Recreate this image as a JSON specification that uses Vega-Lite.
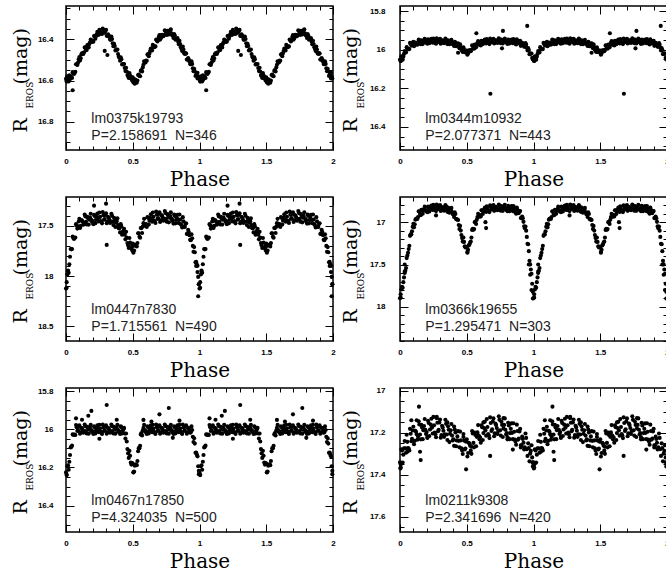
{
"$schema": "https://vega.github.io/schema/vega-lite/v6.json",
"padding": {"left": 10, "top": 4, "right": 0, "bottom": 0},
"background": "white",
"config": {
  "view": {"stroke": "black", "strokeWidth": 1.5},
  "circle": {"size": 17},
  "axis": {"domain": false, "grid": false, "tickColor": "black", "tickWidth": 1, "labelFont": "Liberation Sans", "labelFontWeight": "bold", "labelFontSize": 8, "labelColor": "black", "labelFlush": false, "titleFont": "DejaVu Serif", "titleFontWeight": "normal", "titleColor": "black"}
},
"datasets": {
"d1": [
{"a":0,"b":1,"m":16.591},{"a":0.01,"b":1.01,"m":16.579},{"a":0.02,"b":1.02,"m":16.604},{"a":0.03,"b":1.03,"m":16.592},{"a":0.04,"b":1.04,"m":16.584},{"a":0.05,"b":1.05,"m":16.559},{"a":0.06,"b":1.06,"m":16.568},{"a":0.07,"b":1.07,"m":16.557},{"a":0.08,"b":1.08,"m":16.521},{"a":0.09,"b":1.09,"m":16.513},
{"a":0.1,"b":1.1,"m":16.486},{"a":0.11,"b":1.11,"m":16.492},{"a":0.12,"b":1.12,"m":16.468},{"a":0.13,"b":1.13,"m":16.471},{"a":0.14,"b":1.14,"m":16.439},{"a":0.15,"b":1.15,"m":16.449},{"a":0.16,"b":1.16,"m":16.428},{"a":0.17,"b":1.17,"m":16.439},{"a":0.18,"b":1.18,"m":16.414},{"a":0.19,"b":1.19,"m":16.411},
{"a":0.2,"b":1.2,"m":16.406},{"a":0.21,"b":1.21,"m":16.384},{"a":0.22,"b":1.22,"m":16.397},{"a":0.23,"b":1.23,"m":16.375},{"a":0.24,"b":1.24,"m":16.371},{"a":0.25,"b":1.25,"m":16.354},{"a":0.26,"b":1.26,"m":16.371},{"a":0.27,"b":1.27,"m":16.374},{"a":0.28,"b":1.28,"m":16.356},{"a":0.29,"b":1.29,"m":16.366},
{"a":0.3,"b":1.3,"m":16.354},{"a":0.31,"b":1.31,"m":16.383},{"a":0.32,"b":1.32,"m":16.381},{"a":0.33,"b":1.33,"m":16.401},{"a":0.34,"b":1.34,"m":16.386},{"a":0.35,"b":1.35,"m":16.419},{"a":0.36,"b":1.36,"m":16.421},{"a":0.37,"b":1.37,"m":16.454},{"a":0.38,"b":1.38,"m":16.451},{"a":0.39,"b":1.39,"m":16.471},
{"a":0.4,"b":1.4,"m":16.489},{"a":0.41,"b":1.41,"m":16.487},{"a":0.42,"b":1.42,"m":16.522},{"a":0.43,"b":1.43,"m":16.521},{"a":0.44,"b":1.44,"m":16.539},{"a":0.45,"b":1.45,"m":16.538},{"a":0.46,"b":1.46,"m":16.573},{"a":0.47,"b":1.47,"m":16.587},{"a":0.48,"b":1.48,"m":16.574},{"a":0.49,"b":1.49,"m":16.591},
{"a":0.5,"b":1.5,"m":16.584},{"a":0.51,"b":1.51,"m":16.606},{"a":0.52,"b":1.52,"m":16.596},{"a":0.53,"b":1.53,"m":16.61},{"a":0.54,"b":1.54,"m":16.573},{"a":0.55,"b":1.55,"m":16.578},{"a":0.56,"b":1.56,"m":16.553},{"a":0.57,"b":1.57,"m":16.556},{"a":0.58,"b":1.58,"m":16.523},{"a":0.59,"b":1.59,"m":16.512},
{"a":0.6,"b":1.6,"m":16.503},{"a":0.61,"b":1.61,"m":16.474},{"a":0.62,"b":1.62,"m":16.482},{"a":0.63,"b":1.63,"m":16.457},{"a":0.64,"b":1.64,"m":16.451},{"a":0.65,"b":1.65,"m":16.427},{"a":0.66,"b":1.66,"m":16.438},{"a":0.67,"b":1.67,"m":16.434},{"a":0.68,"b":1.68,"m":16.404},{"a":0.69,"b":1.69,"m":16.403},
{"a":0.7,"b":1.7,"m":16.379},{"a":0.71,"b":1.71,"m":16.394},{"a":0.72,"b":1.72,"m":16.378},{"a":0.73,"b":1.73,"m":16.385},{"a":0.74,"b":1.74,"m":16.356},{"a":0.75,"b":1.75,"m":16.373},{"a":0.76,"b":1.76,"m":16.358},{"a":0.77,"b":1.77,"m":16.376},{"a":0.78,"b":1.78,"m":16.356},{"a":0.79,"b":1.79,"m":16.37},
{"a":0.8,"b":1.8,"m":16.381},{"a":0.81,"b":1.81,"m":16.374},{"a":0.82,"b":1.82,"m":16.402},{"a":0.83,"b":1.83,"m":16.397},{"a":0.84,"b":1.84,"m":16.411},{"a":0.85,"b":1.85,"m":16.407},{"a":0.86,"b":1.86,"m":16.438},{"a":0.87,"b":1.87,"m":16.457},{"a":0.88,"b":1.88,"m":16.449},{"a":0.89,"b":1.89,"m":16.471},
{"a":0.9,"b":1.9,"m":16.469},{"a":0.91,"b":1.91,"m":16.499},{"a":0.92,"b":1.92,"m":16.498},{"a":0.93,"b":1.93,"m":16.52},{"a":0.94,"b":1.94,"m":16.506},{"a":0.95,"b":1.95,"m":16.54},{"a":0.96,"b":1.96,"m":16.543},{"a":0.97,"b":1.97,"m":16.578},{"a":0.98,"b":1.98,"m":16.568},{"a":0.99,"b":1.99,"m":16.58},
{"a":0.05,"b":1.05,"m":16.647},{"a":0.29,"b":1.29,"m":16.456},{"a":0.31,"b":1.31,"m":16.476},{"a":0.005,"b":1.005,"m":16.605},{"a":0.515,"b":1.515,"m":16.615},{"a":0.985,"b":1.985,"m":16.59},{"a":0.025,"b":1.025,"m":16.575},{"a":0.495,"b":1.495,"m":16.6},
{"a":0.005,"b":1.005,"m":16.6},{"a":0.015,"b":1.015,"m":16.584},{"a":0.025,"b":1.025,"m":16.597},{"a":0.035,"b":1.035,"m":16.578},{"a":0.045,"b":1.045,"m":16.587},{"a":0.055,"b":1.055,"m":16.564},{"a":0.065,"b":1.065,"m":16.562},{"a":0.075,"b":1.075,"m":16.521},{"a":0.085,"b":1.085,"m":16.524},{"a":0.095,"b":1.095,"m":16.497},
{"a":0.105,"b":1.105,"m":16.503},{"a":0.115,"b":1.115,"m":16.473},{"a":0.125,"b":1.125,"m":16.468},{"a":0.135,"b":1.135,"m":16.463},{"a":0.145,"b":1.145,"m":16.44},{"a":0.155,"b":1.155,"m":16.452},{"a":0.165,"b":1.165,"m":16.428},{"a":0.175,"b":1.175,"m":16.423},{"a":0.185,"b":1.185,"m":16.401},{"a":0.195,"b":1.195,"m":16.413},
{"a":0.205,"b":1.205,"m":16.411},{"a":0.215,"b":1.215,"m":16.383},{"a":0.225,"b":1.225,"m":16.385},{"a":0.235,"b":1.235,"m":16.363},{"a":0.245,"b":1.245,"m":16.378},{"a":0.255,"b":1.255,"m":16.363},{"a":0.265,"b":1.265,"m":16.372},{"a":0.275,"b":1.275,"m":16.347},{"a":0.285,"b":1.285,"m":16.368},{"a":0.295,"b":1.295,"m":16.357},
{"a":0.305,"b":1.305,"m":16.383},{"a":0.315,"b":1.315,"m":16.375},{"a":0.325,"b":1.325,"m":16.389},{"a":0.335,"b":1.335,"m":16.402},{"a":0.345,"b":1.345,"m":16.398},{"a":0.355,"b":1.355,"m":16.433},{"a":0.365,"b":1.365,"m":16.432},{"a":0.375,"b":1.375,"m":16.449},{"a":0.385,"b":1.385,"m":16.449},{"a":0.395,"b":1.395,"m":16.484},
{"a":0.405,"b":1.405,"m":16.504},{"a":0.415,"b":1.415,"m":16.497},{"a":0.425,"b":1.425,"m":16.52},{"a":0.435,"b":1.435,"m":16.52},{"a":0.445,"b":1.445,"m":16.554},{"a":0.455,"b":1.455,"m":16.556},{"a":0.465,"b":1.465,"m":16.579},{"a":0.475,"b":1.475,"m":16.563},{"a":0.485,"b":1.485,"m":16.589},{"a":0.495,"b":1.495,"m":16.585},
{"a":0.505,"b":1.505,"m":16.609},{"a":0.515,"b":1.515,"m":16.594},{"a":0.525,"b":1.525,"m":16.601},{"a":0.535,"b":1.535,"m":16.6},{"a":0.545,"b":1.545,"m":16.571},{"a":0.555,"b":1.555,"m":16.579},{"a":0.565,"b":1.565,"m":16.549},{"a":0.575,"b":1.575,"m":16.536},{"a":0.585,"b":1.585,"m":16.506},{"a":0.595,"b":1.595,"m":16.512},
{"a":0.605,"b":1.605,"m":16.504},{"a":0.615,"b":1.615,"m":16.471},{"a":0.625,"b":1.625,"m":16.468},{"a":0.635,"b":1.635,"m":16.444},{"a":0.645,"b":1.645,"m":16.454},{"a":0.655,"b":1.655,"m":16.433},{"a":0.665,"b":1.665,"m":16.435},{"a":0.675,"b":1.675,"m":16.401},{"a":0.685,"b":1.685,"m":16.41},{"a":0.695,"b":1.695,"m":16.388},
{"a":0.705,"b":1.705,"m":16.401},{"a":0.715,"b":1.715,"m":16.379},{"a":0.725,"b":1.725,"m":16.38},{"a":0.735,"b":1.735,"m":16.379},{"a":0.745,"b":1.745,"m":16.36},{"a":0.755,"b":1.755,"m":16.379},{"a":0.765,"b":1.765,"m":16.361},{"a":0.775,"b":1.775,"m":16.363},{"a":0.785,"b":1.785,"m":16.351},{"a":0.795,"b":1.795,"m":16.38},
{"a":0.805,"b":1.805,"m":16.393},{"a":0.815,"b":1.815,"m":16.381},{"a":0.825,"b":1.825,"m":16.398},{"a":0.835,"b":1.835,"m":16.394},{"a":0.845,"b":1.845,"m":16.424},{"a":0.855,"b":1.855,"m":16.423},{"a":0.865,"b":1.865,"m":16.447},{"a":0.875,"b":1.875,"m":16.435},{"a":0.885,"b":1.885,"m":16.467},{"a":0.895,"b":1.895,"m":16.467},
{"a":0.905,"b":1.905,"m":16.498},{"a":0.915,"b":1.915,"m":16.491},{"a":0.925,"b":1.925,"m":16.507},{"a":0.935,"b":1.935,"m":16.521},{"a":0.945,"b":1.945,"m":16.519},{"a":0.955,"b":1.955,"m":16.555},{"a":0.965,"b":1.965,"m":16.555},{"a":0.975,"b":1.975,"m":16.57},{"a":0.985,"b":1.985,"m":16.562},{"a":0.995,"b":1.995,"m":16.59}
],
"d2": [
{"a":0,"b":1,"m":16.051},{"a":0.01,"b":1.01,"m":16.034},{"a":0.02,"b":1.02,"m":16.052},{"a":0.03,"b":1.03,"m":16.022},{"a":0.04,"b":1.04,"m":16.011},{"a":0.05,"b":1.05,"m":15.987},{"a":0.06,"b":1.06,"m":15.998},{"a":0.07,"b":1.07,"m":15.997},{"a":0.08,"b":1.08,"m":15.969},{"a":0.09,"b":1.09,"m":15.975},
{"a":0.1,"b":1.1,"m":15.959},{"a":0.11,"b":1.11,"m":15.977},{"a":0.12,"b":1.12,"m":15.964},{"a":0.13,"b":1.13,"m":15.974},{"a":0.14,"b":1.14,"m":15.948},{"a":0.15,"b":1.15,"m":15.965},{"a":0.16,"b":1.16,"m":15.952},{"a":0.17,"b":1.17,"m":15.971},{"a":0.18,"b":1.18,"m":15.953},{"a":0.19,"b":1.19,"m":15.958},
{"a":0.2,"b":1.2,"m":15.961},{"a":0.21,"b":1.21,"m":15.946},{"a":0.22,"b":1.22,"m":15.967},{"a":0.23,"b":1.23,"m":15.952},{"a":0.24,"b":1.24,"m":15.956},{"a":0.25,"b":1.25,"m":15.942},{"a":0.26,"b":1.26,"m":15.963},{"a":0.27,"b":1.27,"m":15.969},{"a":0.28,"b":1.28,"m":15.949},{"a":0.29,"b":1.29,"m":15.958},
{"a":0.3,"b":1.3,"m":15.944},{"a":0.31,"b":1.31,"m":15.965},{"a":0.32,"b":1.32,"m":15.954},{"a":0.33,"b":1.33,"m":15.967},{"a":0.34,"b":1.34,"m":15.943},{"a":0.35,"b":1.35,"m":15.963},{"a":0.36,"b":1.36,"m":15.952},{"a":0.37,"b":1.37,"m":15.972},{"a":0.38,"b":1.38,"m":15.956},{"a":0.39,"b":1.39,"m":15.965},
{"a":0.4,"b":1.4,"m":15.971},{"a":0.41,"b":1.41,"m":15.959},{"a":0.42,"b":1.42,"m":15.982},{"a":0.43,"b":1.43,"m":15.972},{"a":0.44,"b":1.44,"m":15.981},{"a":0.45,"b":1.45,"m":15.972},{"a":0.46,"b":1.46,"m":16},{"a":0.47,"b":1.47,"m":16.012},{"a":0.48,"b":1.48,"m":15.999},{"a":0.49,"b":1.49,"m":16.013},
{"a":0.5,"b":1.5,"m":16.004},{"a":0.51,"b":1.51,"m":16.019},{"a":0.52,"b":1.52,"m":16.003},{"a":0.53,"b":1.53,"m":16.008},{"a":0.54,"b":1.54,"m":15.978},{"a":0.55,"b":1.55,"m":15.99},{"a":0.56,"b":1.56,"m":15.973},{"a":0.57,"b":1.57,"m":15.988},{"a":0.58,"b":1.58,"m":15.966},{"a":0.59,"b":1.59,"m":15.97},
{"a":0.6,"b":1.6,"m":15.971},{"a":0.61,"b":1.61,"m":15.954},{"a":0.62,"b":1.62,"m":15.972},{"a":0.63,"b":1.63,"m":15.956},{"a":0.64,"b":1.64,"m":15.96},{"a":0.65,"b":1.65,"m":15.945},{"a":0.66,"b":1.66,"m":15.965},{"a":0.67,"b":1.67,"m":15.971},{"a":0.68,"b":1.68,"m":15.95},{"a":0.69,"b":1.69,"m":15.959},
{"a":0.7,"b":1.7,"m":15.944},{"a":0.71,"b":1.71,"m":15.964},{"a":0.72,"b":1.72,"m":15.953},{"a":0.73,"b":1.73,"m":15.965},{"a":0.74,"b":1.74,"m":15.941},{"a":0.75,"b":1.75,"m":15.96},{"a":0.76,"b":1.76,"m":15.948},{"a":0.77,"b":1.77,"m":15.968},{"a":0.78,"b":1.78,"m":15.951},{"a":0.79,"b":1.79,"m":15.957},
{"a":0.8,"b":1.8,"m":15.961},{"a":0.81,"b":1.81,"m":15.947},{"a":0.82,"b":1.82,"m":15.968},{"a":0.83,"b":1.83,"m":15.954},{"a":0.84,"b":1.84,"m":15.959},{"a":0.85,"b":1.85,"m":15.945},{"a":0.86,"b":1.86,"m":15.967},{"a":0.87,"b":1.87,"m":15.973},{"a":0.88,"b":1.88,"m":15.954},{"a":0.89,"b":1.89,"m":15.966},
{"a":0.9,"b":1.9,"m":15.954},{"a":0.91,"b":1.91,"m":15.977},{"a":0.92,"b":1.92,"m":15.968},{"a":0.93,"b":1.93,"m":15.985},{"a":0.94,"b":1.94,"m":15.966},{"a":0.95,"b":1.95,"m":15.99},{"a":0.96,"b":1.96,"m":15.991},{"a":0.97,"b":1.97,"m":16.023},{"a":0.98,"b":1.98,"m":16.021},{"a":0.99,"b":1.99,"m":16.042},
{"a":0.435,"b":1.435,"m":16.016},{"a":0.572,"b":1.572,"m":15.915},{"a":0.677,"b":1.677,"m":16.228},{"a":0.771,"b":1.771,"m":15.903},{"a":0.764,"b":1.764,"m":15.993},{"a":0.953,"b":1.953,"m":15.877},{"a":0.005,"b":1.005,"m":16.058},{"a":0.995,"b":1.995,"m":16.048},{"a":0.505,"b":1.505,"m":16.022},{"a":0.015,"b":1.015,"m":16.045},
{"a":0.005,"b":1.005,"m":16.058},{"a":0.015,"b":1.015,"m":16.036},{"a":0.025,"b":1.025,"m":16.036},{"a":0.035,"b":1.035,"m":16.007},{"a":0.045,"b":1.045,"m":16.014},{"a":0.055,"b":1.055,"m":15.993},{"a":0.065,"b":1.065,"m":15.997},{"a":0.075,"b":1.075,"m":15.965},{"a":0.085,"b":1.085,"m":15.979},{"a":0.095,"b":1.095,"m":15.964},
{"a":0.105,"b":1.105,"m":15.982},{"a":0.115,"b":1.115,"m":15.963},{"a":0.125,"b":1.125,"m":15.967},{"a":0.135,"b":1.135,"m":15.969},{"a":0.145,"b":1.145,"m":15.952},{"a":0.155,"b":1.155,"m":15.972},{"a":0.165,"b":1.165,"m":15.956},{"a":0.175,"b":1.175,"m":15.959},{"a":0.185,"b":1.185,"m":15.944},{"a":0.195,"b":1.195,"m":15.964},
{"a":0.205,"b":1.205,"m":15.969},{"a":0.215,"b":1.215,"m":15.949},{"a":0.225,"b":1.225,"m":15.958},{"a":0.235,"b":1.235,"m":15.944},{"a":0.245,"b":1.245,"m":15.964},{"a":0.255,"b":1.255,"m":15.953},{"a":0.265,"b":1.265,"m":15.965},{"a":0.275,"b":1.275,"m":15.941},{"a":0.285,"b":1.285,"m":15.96},{"a":0.295,"b":1.295,"m":15.948},
{"a":0.305,"b":1.305,"m":15.969},{"a":0.315,"b":1.315,"m":15.952},{"a":0.325,"b":1.325,"m":15.959},{"a":0.335,"b":1.335,"m":15.963},{"a":0.345,"b":1.345,"m":15.949},{"a":0.355,"b":1.355,"m":15.971},{"a":0.365,"b":1.365,"m":15.956},{"a":0.375,"b":1.375,"m":15.961},{"a":0.385,"b":1.385,"m":15.949},{"a":0.395,"b":1.395,"m":15.972},
{"a":0.405,"b":1.405,"m":15.981},{"a":0.415,"b":1.415,"m":15.963},{"a":0.425,"b":1.425,"m":15.976},{"a":0.435,"b":1.435,"m":15.967},{"a":0.445,"b":1.445,"m":15.992},{"a":0.455,"b":1.455,"m":15.987},{"a":0.465,"b":1.465,"m":16.005},{"a":0.475,"b":1.475,"m":15.988},{"a":0.485,"b":1.485,"m":16.013},{"a":0.495,"b":1.495,"m":16.006},
{"a":0.505,"b":1.505,"m":16.026},{"a":0.515,"b":1.515,"m":16.004},{"a":0.525,"b":1.525,"m":16.004},{"a":0.535,"b":1.535,"m":16.001},{"a":0.545,"b":1.545,"m":15.98},{"a":0.555,"b":1.555,"m":15.995},{"a":0.565,"b":1.565,"m":15.975},{"a":0.575,"b":1.575,"m":15.974},{"a":0.585,"b":1.585,"m":15.956},{"a":0.595,"b":1.595,"m":15.975},
{"a":0.605,"b":1.605,"m":15.978},{"a":0.615,"b":1.615,"m":15.956},{"a":0.625,"b":1.625,"m":15.963},{"a":0.635,"b":1.635,"m":15.948},{"a":0.645,"b":1.645,"m":15.968},{"a":0.655,"b":1.655,"m":15.956},{"a":0.665,"b":1.665,"m":15.967},{"a":0.675,"b":1.675,"m":15.943},{"a":0.685,"b":1.685,"m":15.961},{"a":0.695,"b":1.695,"m":15.949},
{"a":0.705,"b":1.705,"m":15.968},{"a":0.715,"b":1.715,"m":15.951},{"a":0.725,"b":1.725,"m":15.957},{"a":0.735,"b":1.735,"m":15.961},{"a":0.745,"b":1.745,"m":15.946},{"a":0.755,"b":1.755,"m":15.967},{"a":0.765,"b":1.765,"m":15.952},{"a":0.775,"b":1.775,"m":15.956},{"a":0.785,"b":1.785,"m":15.942},{"a":0.795,"b":1.795,"m":15.963},
{"a":0.805,"b":1.805,"m":15.97},{"a":0.815,"b":1.815,"m":15.95},{"a":0.825,"b":1.825,"m":15.96},{"a":0.835,"b":1.835,"m":15.947},{"a":0.845,"b":1.845,"m":15.967},{"a":0.855,"b":1.855,"m":15.957},{"a":0.865,"b":1.865,"m":15.969},{"a":0.875,"b":1.875,"m":15.946},{"a":0.885,"b":1.885,"m":15.967},{"a":0.895,"b":1.895,"m":15.957},
{"a":0.905,"b":1.905,"m":15.98},{"a":0.915,"b":1.915,"m":15.965},{"a":0.925,"b":1.925,"m":15.975},{"a":0.935,"b":1.935,"m":15.984},{"a":0.945,"b":1.945,"m":15.974},{"a":0.955,"b":1.955,"m":16.004},{"a":0.965,"b":1.965,"m":16.001},{"a":0.975,"b":1.975,"m":16.019},{"a":0.985,"b":1.985,"m":16.02},{"a":0.995,"b":1.995,"m":16.051}
],
"d3": [
{"a":0,"b":1,"m":18.124},{"a":0.01,"b":1.01,"m":17.984},{"a":0.02,"b":1.02,"m":17.968},{"a":0.03,"b":1.03,"m":17.808},{"a":0.04,"b":1.04,"m":17.734},{"a":0.05,"b":1.05,"m":17.608},{"a":0.06,"b":1.06,"m":17.632},{"a":0.07,"b":1.07,"m":17.616},{"a":0.08,"b":1.08,"m":17.496},{"a":0.09,"b":1.09,"m":17.507},
{"a":0.1,"b":1.1,"m":17.431},{"a":0.11,"b":1.11,"m":17.501},{"a":0.12,"b":1.12,"m":17.447},{"a":0.13,"b":1.13,"m":17.49},{"a":0.14,"b":1.14,"m":17.389},{"a":0.15,"b":1.15,"m":17.46},{"a":0.16,"b":1.16,"m":17.41},{"a":0.17,"b":1.17,"m":17.488},{"a":0.18,"b":1.18,"m":17.418},{"a":0.19,"b":1.19,"m":17.44},
{"a":0.2,"b":1.2,"m":17.454},{"a":0.21,"b":1.21,"m":17.392},{"a":0.22,"b":1.22,"m":17.474},{"a":0.23,"b":1.23,"m":17.412},{"a":0.24,"b":1.24,"m":17.426},{"a":0.25,"b":1.25,"m":17.368},{"a":0.26,"b":1.26,"m":17.452},{"a":0.27,"b":1.27,"m":17.476},{"a":0.28,"b":1.28,"m":17.396},{"a":0.29,"b":1.29,"m":17.432},
{"a":0.3,"b":1.3,"m":17.376},{"a":0.31,"b":1.31,"m":17.46},{"a":0.32,"b":1.32,"m":17.42},{"a":0.33,"b":1.33,"m":17.472},{"a":0.34,"b":1.34,"m":17.38},{"a":0.35,"b":1.35,"m":17.46},{"a":0.36,"b":1.36,"m":17.422},{"a":0.37,"b":1.37,"m":17.512},{"a":0.38,"b":1.38,"m":17.454},{"a":0.39,"b":1.39,"m":17.493},
{"a":0.4,"b":1.4,"m":17.524},{"a":0.41,"b":1.41,"m":17.484},{"a":0.42,"b":1.42,"m":17.588},{"a":0.43,"b":1.43,"m":17.55},{"a":0.44,"b":1.44,"m":17.589},{"a":0.45,"b":1.45,"m":17.56},{"a":0.46,"b":1.46,"m":17.672},{"a":0.47,"b":1.47,"m":17.721},{"a":0.48,"b":1.48,"m":17.666},{"a":0.49,"b":1.49,"m":17.717},
{"a":0.5,"b":1.5,"m":17.676},{"a":0.51,"b":1.51,"m":17.746},{"a":0.52,"b":1.52,"m":17.692},{"a":0.53,"b":1.53,"m":17.705},{"a":0.54,"b":1.54,"m":17.574},{"a":0.55,"b":1.55,"m":17.61},{"a":0.56,"b":1.56,"m":17.522},{"a":0.57,"b":1.57,"m":17.572},{"a":0.58,"b":1.58,"m":17.474},{"a":0.59,"b":1.59,"m":17.483},
{"a":0.6,"b":1.6,"m":17.484},{"a":0.61,"b":1.61,"m":17.414},{"a":0.62,"b":1.62,"m":17.488},{"a":0.63,"b":1.63,"m":17.421},{"a":0.64,"b":1.64,"m":17.431},{"a":0.65,"b":1.65,"m":17.368},{"a":0.66,"b":1.66,"m":17.45},{"a":0.67,"b":1.67,"m":17.472},{"a":0.68,"b":1.68,"m":17.39},{"a":0.69,"b":1.69,"m":17.424},
{"a":0.7,"b":1.7,"m":17.366},{"a":0.71,"b":1.71,"m":17.446},{"a":0.72,"b":1.72,"m":17.402},{"a":0.73,"b":1.73,"m":17.45},{"a":0.74,"b":1.74,"m":17.354},{"a":0.75,"b":1.75,"m":17.43},{"a":0.76,"b":1.76,"m":17.384},{"a":0.77,"b":1.77,"m":17.466},{"a":0.78,"b":1.78,"m":17.4},{"a":0.79,"b":1.79,"m":17.426},
{"a":0.8,"b":1.8,"m":17.444},{"a":0.81,"b":1.81,"m":17.388},{"a":0.82,"b":1.82,"m":17.476},{"a":0.83,"b":1.83,"m":17.42},{"a":0.84,"b":1.84,"m":17.44},{"a":0.85,"b":1.85,"m":17.388},{"a":0.86,"b":1.86,"m":17.482},{"a":0.87,"b":1.87,"m":17.516},{"a":0.88,"b":1.88,"m":17.456},{"a":0.89,"b":1.89,"m":17.512},
{"a":0.9,"b":1.9,"m":17.476},{"a":0.91,"b":1.91,"m":17.576},{"a":0.92,"b":1.92,"m":17.562},{"a":0.93,"b":1.93,"m":17.64},{"a":0.94,"b":1.94,"m":17.584},{"a":0.95,"b":1.95,"m":17.7},{"a":0.96,"b":1.96,"m":17.712},{"a":0.97,"b":1.97,"m":17.862},{"a":0.98,"b":1.98,"m":17.884},{"a":0.99,"b":1.99,"m":18.008},
{"a":0.305,"b":1.305,"m":17.69},{"a":0.21,"b":1.21,"m":17.3},{"a":0.3,"b":1.3,"m":17.28},{"a":0.99,"b":1.99,"m":18.2},{"a":0.995,"b":1.995,"m":18.08},{"a":0.985,"b":1.985,"m":17.96},{"a":0.005,"b":1.005,"m":18.06},{"a":0.5,"b":1.5,"m":17.75},{"a":0.505,"b":1.505,"m":17.7},{"a":0.015,"b":1.015,"m":17.95},{"a":0.975,"b":1.975,"m":17.9},{"a":0.495,"b":1.495,"m":17.74},
{"a":0.005,"b":1.005,"m":18.116},{"a":0.015,"b":1.015,"m":17.946},{"a":0.025,"b":1.025,"m":17.882},{"a":0.035,"b":1.035,"m":17.731},{"a":0.045,"b":1.045,"m":17.731},{"a":0.055,"b":1.055,"m":17.622},{"a":0.065,"b":1.065,"m":17.62},{"a":0.075,"b":1.075,"m":17.484},{"a":0.085,"b":1.085,"m":17.528},{"a":0.095,"b":1.095,"m":17.457},
{"a":0.105,"b":1.105,"m":17.522},{"a":0.115,"b":1.115,"m":17.444},{"a":0.125,"b":1.125,"m":17.461},{"a":0.135,"b":1.135,"m":17.472},{"a":0.145,"b":1.145,"m":17.407},{"a":0.155,"b":1.155,"m":17.487},{"a":0.165,"b":1.165,"m":17.425},{"a":0.175,"b":1.175,"m":17.439},{"a":0.185,"b":1.185,"m":17.381},{"a":0.195,"b":1.195,"m":17.463},
{"a":0.205,"b":1.205,"m":17.485},{"a":0.215,"b":1.215,"m":17.403},{"a":0.225,"b":1.225,"m":17.437},{"a":0.235,"b":1.235,"m":17.379},{"a":0.245,"b":1.245,"m":17.457},{"a":0.255,"b":1.255,"m":17.412},{"a":0.265,"b":1.265,"m":17.46},{"a":0.275,"b":1.275,"m":17.364},{"a":0.285,"b":1.285,"m":17.44},{"a":0.295,"b":1.295,"m":17.392},
{"a":0.305,"b":1.305,"m":17.474},{"a":0.315,"b":1.315,"m":17.41},{"a":0.325,"b":1.325,"m":17.438},{"a":0.335,"b":1.335,"m":17.458},{"a":0.345,"b":1.345,"m":17.402},{"a":0.355,"b":1.355,"m":17.493},{"a":0.365,"b":1.365,"m":17.443},{"a":0.375,"b":1.375,"m":17.469},{"a":0.385,"b":1.385,"m":17.426},{"a":0.395,"b":1.395,"m":17.525},
{"a":0.405,"b":1.405,"m":17.566},{"a":0.415,"b":1.415,"m":17.506},{"a":0.425,"b":1.425,"m":17.563},{"a":0.435,"b":1.435,"m":17.53},{"a":0.445,"b":1.445,"m":17.635},{"a":0.455,"b":1.455,"m":17.618},{"a":0.465,"b":1.465,"m":17.693},{"a":0.475,"b":1.475,"m":17.622},{"a":0.485,"b":1.485,"m":17.718},{"a":0.495,"b":1.495,"m":17.685},
{"a":0.505,"b":1.505,"m":17.767},{"a":0.515,"b":1.515,"m":17.689},{"a":0.525,"b":1.525,"m":17.691},{"a":0.535,"b":1.535,"m":17.672},{"a":0.545,"b":1.545,"m":17.574},{"a":0.555,"b":1.555,"m":17.618},{"a":0.565,"b":1.565,"m":17.523},{"a":0.575,"b":1.575,"m":17.509},{"a":0.585,"b":1.585,"m":17.431},{"a":0.595,"b":1.595,"m":17.5},
{"a":0.605,"b":1.605,"m":17.511},{"a":0.615,"b":1.615,"m":17.421},{"a":0.625,"b":1.625,"m":17.449},{"a":0.635,"b":1.635,"m":17.386},{"a":0.645,"b":1.645,"m":17.46},{"a":0.655,"b":1.655,"m":17.411},{"a":0.665,"b":1.665,"m":17.457},{"a":0.675,"b":1.675,"m":17.359},{"a":0.685,"b":1.685,"m":17.433},{"a":0.695,"b":1.695,"m":17.383},
{"a":0.705,"b":1.705,"m":17.462},{"a":0.715,"b":1.715,"m":17.394},{"a":0.725,"b":1.725,"m":17.418},{"a":0.735,"b":1.735,"m":17.434},{"a":0.745,"b":1.745,"m":17.374},{"a":0.755,"b":1.755,"m":17.459},{"a":0.765,"b":1.765,"m":17.401},{"a":0.775,"b":1.775,"m":17.419},{"a":0.785,"b":1.785,"m":17.365},{"a":0.795,"b":1.795,"m":17.451},
{"a":0.805,"b":1.805,"m":17.478},{"a":0.815,"b":1.815,"m":17.402},{"a":0.825,"b":1.825,"m":17.442},{"a":0.835,"b":1.835,"m":17.39},{"a":0.845,"b":1.845,"m":17.474},{"a":0.855,"b":1.855,"m":17.437},{"a":0.865,"b":1.865,"m":17.495},{"a":0.875,"b":1.875,"m":17.414},{"a":0.885,"b":1.885,"m":17.51},{"a":0.895,"b":1.895,"m":17.482},
{"a":0.905,"b":1.905,"m":17.582},{"a":0.915,"b":1.915,"m":17.539},{"a":0.925,"b":1.925,"m":17.593},{"a":0.935,"b":1.935,"m":17.644},{"a":0.945,"b":1.945,"m":17.624},{"a":0.955,"b":1.955,"m":17.758},{"a":0.965,"b":1.965,"m":17.763},{"a":0.975,"b":1.975,"m":17.859},{"a":0.985,"b":1.985,"m":17.898},{"a":0.995,"b":1.995,"m":18.082}
],
"d4": [
{"a":0,"b":1,"m":17.897},{"a":0.01,"b":1.01,"m":17.795},{"a":0.02,"b":1.02,"m":17.774},{"a":0.03,"b":1.03,"m":17.652},{"a":0.04,"b":1.04,"m":17.573},{"a":0.05,"b":1.05,"m":17.424},{"a":0.06,"b":1.06,"m":17.362},{"a":0.07,"b":1.07,"m":17.279},{"a":0.08,"b":1.08,"m":17.143},{"a":0.09,"b":1.09,"m":17.108},
{"a":0.1,"b":1.1,"m":17.019},{"a":0.11,"b":1.11,"m":17.025},{"a":0.12,"b":1.12,"m":16.959},{"a":0.13,"b":1.13,"m":16.963},{"a":0.14,"b":1.14,"m":16.871},{"a":0.15,"b":1.15,"m":16.904},{"a":0.16,"b":1.16,"m":16.855},{"a":0.17,"b":1.17,"m":16.901},{"a":0.18,"b":1.18,"m":16.844},{"a":0.19,"b":1.19,"m":16.856},
{"a":0.2,"b":1.2,"m":16.862},{"a":0.21,"b":1.21,"m":16.817},{"a":0.22,"b":1.22,"m":16.873},{"a":0.23,"b":1.23,"m":16.828},{"a":0.24,"b":1.24,"m":16.836},{"a":0.25,"b":1.25,"m":16.794},{"a":0.26,"b":1.26,"m":16.852},{"a":0.27,"b":1.27,"m":16.869},{"a":0.28,"b":1.28,"m":16.813},{"a":0.29,"b":1.29,"m":16.838},
{"a":0.3,"b":1.3,"m":16.799},{"a":0.31,"b":1.31,"m":16.857},{"a":0.32,"b":1.32,"m":16.828},{"a":0.33,"b":1.33,"m":16.864},{"a":0.34,"b":1.34,"m":16.799},{"a":0.35,"b":1.35,"m":16.854},{"a":0.36,"b":1.36,"m":16.827},{"a":0.37,"b":1.37,"m":16.889},{"a":0.38,"b":1.38,"m":16.849},{"a":0.39,"b":1.39,"m":16.881},
{"a":0.4,"b":1.4,"m":16.907},{"a":0.41,"b":1.41,"m":16.885},{"a":0.42,"b":1.42,"m":16.964},{"a":0.43,"b":1.43,"m":16.972},{"a":0.44,"b":1.44,"m":17.033},{"a":0.45,"b":1.45,"m":17.044},{"a":0.46,"b":1.46,"m":17.152},{"a":0.47,"b":1.47,"m":17.229},{"a":0.48,"b":1.48,"m":17.233},{"a":0.49,"b":1.49,"m":17.298},
{"a":0.5,"b":1.5,"m":17.299},{"a":0.51,"b":1.51,"m":17.325},{"a":0.52,"b":1.52,"m":17.264},{"a":0.53,"b":1.53,"m":17.228},{"a":0.54,"b":1.54,"m":17.091},{"a":0.55,"b":1.55,"m":17.089},{"a":0.56,"b":1.56,"m":17},{"a":0.57,"b":1.57,"m":17.021},{"a":0.58,"b":1.58,"m":16.939},{"a":0.59,"b":1.59,"m":16.931},
{"a":0.6,"b":1.6,"m":16.917},{"a":0.61,"b":1.61,"m":16.86},{"a":0.62,"b":1.62,"m":16.904},{"a":0.63,"b":1.63,"m":16.855},{"a":0.64,"b":1.64,"m":16.86},{"a":0.65,"b":1.65,"m":16.814},{"a":0.66,"b":1.66,"m":16.868},{"a":0.67,"b":1.67,"m":16.881},{"a":0.68,"b":1.68,"m":16.821},{"a":0.69,"b":1.69,"m":16.842},
{"a":0.7,"b":1.7,"m":16.799},{"a":0.71,"b":1.71,"m":16.855},{"a":0.72,"b":1.72,"m":16.824},{"a":0.73,"b":1.73,"m":16.858},{"a":0.74,"b":1.74,"m":16.791},{"a":0.75,"b":1.75,"m":16.844},{"a":0.76,"b":1.76,"m":16.81},{"a":0.77,"b":1.77,"m":16.866},{"a":0.78,"b":1.78,"m":16.819},{"a":0.79,"b":1.79,"m":16.836},
{"a":0.8,"b":1.8,"m":16.847},{"a":0.81,"b":1.81,"m":16.808},{"a":0.82,"b":1.82,"m":16.87},{"a":0.83,"b":1.83,"m":16.831},{"a":0.84,"b":1.84,"m":16.845},{"a":0.85,"b":1.85,"m":16.809},{"a":0.86,"b":1.86,"m":16.875},{"a":0.87,"b":1.87,"m":16.901},{"a":0.88,"b":1.88,"m":16.853},{"a":0.89,"b":1.89,"m":16.893},
{"a":0.9,"b":1.9,"m":16.869},{"a":0.91,"b":1.91,"m":16.955},{"a":0.92,"b":1.92,"m":16.954},{"a":0.93,"b":1.93,"m":17.048},{"a":0.94,"b":1.94,"m":17.051},{"a":0.95,"b":1.95,"m":17.174},{"a":0.96,"b":1.96,"m":17.26},{"a":0.97,"b":1.97,"m":17.456},{"a":0.98,"b":1.98,"m":17.559},{"a":0.99,"b":1.99,"m":17.726},
{"a":0.64,"b":1.64,"m":17.0},{"a":0.645,"b":1.645,"m":17.07},{"a":0.27,"b":1.27,"m":16.92},{"a":0.995,"b":1.995,"m":17.9},{"a":0.005,"b":1.005,"m":17.85},{"a":0.975,"b":1.975,"m":17.62},{"a":0.035,"b":1.035,"m":17.5},{"a":0.985,"b":1.985,"m":17.8},{"a":0.505,"b":1.505,"m":17.36},{"a":0.035,"b":1.035,"m":17.6},{"a":0.965,"b":1.965,"m":17.5},
{"a":0.005,"b":1.005,"m":17.889},{"a":0.015,"b":1.015,"m":17.763},{"a":0.025,"b":1.025,"m":17.708},{"a":0.035,"b":1.035,"m":17.584},{"a":0.045,"b":1.045,"m":17.54},{"a":0.055,"b":1.055,"m":17.394},{"a":0.065,"b":1.065,"m":17.318},{"a":0.075,"b":1.075,"m":17.161},{"a":0.085,"b":1.085,"m":17.144},{"a":0.095,"b":1.095,"m":17.055},
{"a":0.105,"b":1.105,"m":17.061},{"a":0.115,"b":1.115,"m":16.972},{"a":0.125,"b":1.125,"m":16.956},{"a":0.135,"b":1.135,"m":16.94},{"a":0.145,"b":1.145,"m":16.875},{"a":0.155,"b":1.155,"m":16.917},{"a":0.165,"b":1.165,"m":16.862},{"a":0.175,"b":1.175,"m":16.863},{"a":0.185,"b":1.185,"m":16.817},{"a":0.195,"b":1.195,"m":16.87},
{"a":0.205,"b":1.205,"m":16.883},{"a":0.215,"b":1.215,"m":16.824},{"a":0.225,"b":1.225,"m":16.846},{"a":0.235,"b":1.235,"m":16.804},{"a":0.245,"b":1.245,"m":16.857},{"a":0.255,"b":1.255,"m":16.824},{"a":0.265,"b":1.265,"m":16.858},{"a":0.275,"b":1.275,"m":16.791},{"a":0.285,"b":1.285,"m":16.844},{"a":0.295,"b":1.295,"m":16.81},
{"a":0.305,"b":1.305,"m":16.867},{"a":0.315,"b":1.315,"m":16.822},{"a":0.325,"b":1.325,"m":16.841},{"a":0.335,"b":1.335,"m":16.854},{"a":0.345,"b":1.345,"m":16.814},{"a":0.355,"b":1.355,"m":16.878},{"a":0.365,"b":1.365,"m":16.842},{"a":0.375,"b":1.375,"m":16.86},{"a":0.385,"b":1.385,"m":16.832},{"a":0.395,"b":1.395,"m":16.905},
{"a":0.405,"b":1.405,"m":16.939},{"a":0.415,"b":1.415,"m":16.903},{"a":0.425,"b":1.425,"m":16.963},{"a":0.435,"b":1.435,"m":16.974},{"a":0.445,"b":1.445,"m":17.08},{"a":0.455,"b":1.455,"m":17.099},{"a":0.465,"b":1.465,"m":17.188},{"a":0.475,"b":1.475,"m":17.181},{"a":0.485,"b":1.485,"m":17.284},{"a":0.495,"b":1.495,"m":17.29},
{"a":0.505,"b":1.505,"m":17.351},{"a":0.515,"b":1.515,"m":17.274},{"a":0.525,"b":1.525,"m":17.241},{"a":0.535,"b":1.535,"m":17.182},{"a":0.545,"b":1.545,"m":17.078},{"a":0.555,"b":1.555,"m":17.082},{"a":0.565,"b":1.565,"m":16.995},{"a":0.575,"b":1.575,"m":16.971},{"a":0.585,"b":1.585,"m":16.902},{"a":0.595,"b":1.595,"m":16.935},
{"a":0.605,"b":1.605,"m":16.932},{"a":0.615,"b":1.615,"m":16.861},{"a":0.625,"b":1.625,"m":16.875},{"a":0.635,"b":1.635,"m":16.829},{"a":0.645,"b":1.645,"m":16.879},{"a":0.655,"b":1.655,"m":16.842},{"a":0.665,"b":1.665,"m":16.872},{"a":0.675,"b":1.675,"m":16.801},{"a":0.685,"b":1.685,"m":16.85},{"a":0.695,"b":1.695,"m":16.812},
{"a":0.705,"b":1.705,"m":16.866},{"a":0.715,"b":1.715,"m":16.819},{"a":0.725,"b":1.725,"m":16.836},{"a":0.735,"b":1.735,"m":16.847},{"a":0.745,"b":1.745,"m":16.805},{"a":0.755,"b":1.755,"m":16.864},{"a":0.765,"b":1.765,"m":16.822},{"a":0.775,"b":1.775,"m":16.833},{"a":0.785,"b":1.785,"m":16.794},{"a":0.795,"b":1.795,"m":16.852},
{"a":0.805,"b":1.805,"m":16.871},{"a":0.815,"b":1.815,"m":16.818},{"a":0.825,"b":1.825,"m":16.846},{"a":0.835,"b":1.835,"m":16.81},{"a":0.845,"b":1.845,"m":16.869},{"a":0.855,"b":1.855,"m":16.843},{"a":0.865,"b":1.865,"m":16.886},{"a":0.875,"b":1.875,"m":16.827},{"a":0.885,"b":1.885,"m":16.892},{"a":0.895,"b":1.895,"m":16.873},
{"a":0.905,"b":1.905,"m":16.951},{"a":0.915,"b":1.915,"m":16.934},{"a":0.925,"b":1.925,"m":16.996},{"a":0.935,"b":1.935,"m":17.072},{"a":0.945,"b":1.945,"m":17.1},{"a":0.955,"b":1.955,"m":17.254},{"a":0.965,"b":1.965,"m":17.342},{"a":0.975,"b":1.975,"m":17.498},{"a":0.985,"b":1.985,"m":17.609},{"a":0.995,"b":1.995,"m":17.822}
],
"d5": [
{"a":0,"b":1,"m":16.226},{"a":0.01,"b":1.01,"m":16.194},{"a":0.02,"b":1.02,"m":16.212},{"a":0.03,"b":1.03,"m":16.135},{"a":0.04,"b":1.04,"m":16.092},{"a":0.05,"b":1.05,"m":16.027},{"a":0.06,"b":1.06,"m":16.029},{"a":0.07,"b":1.07,"m":16.03},{"a":0.08,"b":1.08,"m":15.989},{"a":0.09,"b":1.09,"m":16.005},
{"a":0.1,"b":1.1,"m":15.98},{"a":0.11,"b":1.11,"m":16.016},{"a":0.12,"b":1.12,"m":15.996},{"a":0.13,"b":1.13,"m":16.018},{"a":0.14,"b":1.14,"m":15.975},{"a":0.15,"b":1.15,"m":16.009},{"a":0.16,"b":1.16,"m":15.987},{"a":0.17,"b":1.17,"m":16.023},{"a":0.18,"b":1.18,"m":15.993},{"a":0.19,"b":1.19,"m":16.004},
{"a":0.2,"b":1.2,"m":16.011},{"a":0.21,"b":1.21,"m":15.984},{"a":0.22,"b":1.22,"m":16.022},{"a":0.23,"b":1.23,"m":15.995},{"a":0.24,"b":1.24,"m":16.002},{"a":0.25,"b":1.25,"m":15.977},{"a":0.26,"b":1.26,"m":16.014},{"a":0.27,"b":1.27,"m":16.025},{"a":0.28,"b":1.28,"m":15.989},{"a":0.29,"b":1.29,"m":16.005},
{"a":0.3,"b":1.3,"m":15.98},{"a":0.31,"b":1.31,"m":16.016},{"a":0.32,"b":1.32,"m":15.996},{"a":0.33,"b":1.33,"m":16.018},{"a":0.34,"b":1.34,"m":15.975},{"a":0.35,"b":1.35,"m":16.009},{"a":0.36,"b":1.36,"m":15.987},{"a":0.37,"b":1.37,"m":16.023},{"a":0.38,"b":1.38,"m":15.993},{"a":0.39,"b":1.39,"m":16.004},
{"a":0.4,"b":1.4,"m":16.011},{"a":0.41,"b":1.41,"m":15.984},{"a":0.42,"b":1.42,"m":16.022},{"a":0.43,"b":1.43,"m":16},{"a":0.44,"b":1.44,"m":16.022},{"a":0.45,"b":1.45,"m":16.022},{"a":0.46,"b":1.46,"m":16.104},{"a":0.47,"b":1.47,"m":16.15},{"a":0.48,"b":1.48,"m":16.139},{"a":0.49,"b":1.49,"m":16.185},
{"a":0.5,"b":1.5,"m":16.18},{"a":0.51,"b":1.51,"m":16.221},{"a":0.52,"b":1.52,"m":16.186},{"a":0.53,"b":1.53,"m":16.188},{"a":0.54,"b":1.54,"m":16.115},{"a":0.55,"b":1.55,"m":16.099},{"a":0.56,"b":1.56,"m":16.027},{"a":0.57,"b":1.57,"m":16.033},{"a":0.58,"b":1.58,"m":15.993},{"a":0.59,"b":1.59,"m":16.004},
{"a":0.6,"b":1.6,"m":16.011},{"a":0.61,"b":1.61,"m":15.984},{"a":0.62,"b":1.62,"m":16.022},{"a":0.63,"b":1.63,"m":15.995},{"a":0.64,"b":1.64,"m":16.002},{"a":0.65,"b":1.65,"m":15.977},{"a":0.66,"b":1.66,"m":16.014},{"a":0.67,"b":1.67,"m":16.025},{"a":0.68,"b":1.68,"m":15.989},{"a":0.69,"b":1.69,"m":16.005},
{"a":0.7,"b":1.7,"m":15.98},{"a":0.71,"b":1.71,"m":16.016},{"a":0.72,"b":1.72,"m":15.996},{"a":0.73,"b":1.73,"m":16.018},{"a":0.74,"b":1.74,"m":15.975},{"a":0.75,"b":1.75,"m":16.009},{"a":0.76,"b":1.76,"m":15.987},{"a":0.77,"b":1.77,"m":16.023},{"a":0.78,"b":1.78,"m":15.993},{"a":0.79,"b":1.79,"m":16.004},
{"a":0.8,"b":1.8,"m":16.011},{"a":0.81,"b":1.81,"m":15.984},{"a":0.82,"b":1.82,"m":16.022},{"a":0.83,"b":1.83,"m":15.995},{"a":0.84,"b":1.84,"m":16.002},{"a":0.85,"b":1.85,"m":15.977},{"a":0.86,"b":1.86,"m":16.014},{"a":0.87,"b":1.87,"m":16.025},{"a":0.88,"b":1.88,"m":15.989},{"a":0.89,"b":1.89,"m":16.005},
{"a":0.9,"b":1.9,"m":15.98},{"a":0.91,"b":1.91,"m":16.016},{"a":0.92,"b":1.92,"m":15.996},{"a":0.93,"b":1.93,"m":16.018},{"a":0.94,"b":1.94,"m":15.985},{"a":0.95,"b":1.95,"m":16.039},{"a":0.96,"b":1.96,"m":16.047},{"a":0.97,"b":1.97,"m":16.123},{"a":0.98,"b":1.98,"m":16.133},{"a":0.99,"b":1.99,"m":16.194},
{"a":0.075,"b":1.075,"m":15.943},{"a":0.167,"b":1.167,"m":15.929},{"a":0.19,"b":1.19,"m":15.904},{"a":0.305,"b":1.305,"m":15.873},{"a":0.58,"b":1.58,"m":15.951},{"a":0.7,"b":1.7,"m":15.922},{"a":0.77,"b":1.77,"m":15.889},{"a":0.995,"b":1.995,"m":16.235},{"a":0.005,"b":1.005,"m":16.24},{"a":0.505,"b":1.505,"m":16.225},{"a":0.12,"b":1.12,"m":15.95},{"a":0.85,"b":1.85,"m":15.955},{"a":0.64,"b":1.64,"m":15.96},{"a":0.38,"b":1.38,"m":15.95},{"a":0.25,"b":1.25,"m":16.05},{"a":0.8,"b":1.8,"m":16.045},
{"a":0.005,"b":1.005,"m":16.238},{"a":0.015,"b":1.015,"m":16.189},{"a":0.025,"b":1.025,"m":16.17},{"a":0.035,"b":1.035,"m":16.095},{"a":0.045,"b":1.045,"m":16.086},{"a":0.055,"b":1.055,"m":16.029},{"a":0.065,"b":1.065,"m":16.028},{"a":0.075,"b":1.075,"m":15.978},{"a":0.085,"b":1.085,"m":16.009},{"a":0.095,"b":1.095,"m":15.987},
{"a":0.105,"b":1.105,"m":16.023},{"a":0.115,"b":1.115,"m":15.993},{"a":0.125,"b":1.125,"m":16.004},{"a":0.135,"b":1.135,"m":16.011},{"a":0.145,"b":1.145,"m":15.984},{"a":0.155,"b":1.155,"m":16.022},{"a":0.165,"b":1.165,"m":15.995},{"a":0.175,"b":1.175,"m":16.002},{"a":0.185,"b":1.185,"m":15.977},{"a":0.195,"b":1.195,"m":16.014},
{"a":0.205,"b":1.205,"m":16.025},{"a":0.215,"b":1.215,"m":15.989},{"a":0.225,"b":1.225,"m":16.005},{"a":0.235,"b":1.235,"m":15.98},{"a":0.245,"b":1.245,"m":16.016},{"a":0.255,"b":1.255,"m":15.996},{"a":0.265,"b":1.265,"m":16.018},{"a":0.275,"b":1.275,"m":15.975},{"a":0.285,"b":1.285,"m":16.009},{"a":0.295,"b":1.295,"m":15.987},
{"a":0.305,"b":1.305,"m":16.023},{"a":0.315,"b":1.315,"m":15.993},{"a":0.325,"b":1.325,"m":16.004},{"a":0.335,"b":1.335,"m":16.011},{"a":0.345,"b":1.345,"m":15.984},{"a":0.355,"b":1.355,"m":16.022},{"a":0.365,"b":1.365,"m":15.995},{"a":0.375,"b":1.375,"m":16.002},{"a":0.385,"b":1.385,"m":15.977},{"a":0.395,"b":1.395,"m":16.014},
{"a":0.405,"b":1.405,"m":16.025},{"a":0.415,"b":1.415,"m":15.989},{"a":0.425,"b":1.425,"m":16.008},{"a":0.435,"b":1.435,"m":15.993},{"a":0.445,"b":1.445,"m":16.049},{"a":0.455,"b":1.455,"m":16.064},{"a":0.465,"b":1.465,"m":16.126},{"a":0.475,"b":1.475,"m":16.113},{"a":0.485,"b":1.485,"m":16.174},{"a":0.495,"b":1.495,"m":16.177},
{"a":0.505,"b":1.505,"m":16.226},{"a":0.515,"b":1.515,"m":16.191},{"a":0.525,"b":1.525,"m":16.184},{"a":0.535,"b":1.535,"m":16.166},{"a":0.545,"b":1.545,"m":16.099},{"a":0.555,"b":1.555,"m":16.087},{"a":0.565,"b":1.565,"m":16.02},{"a":0.575,"b":1.575,"m":16.007},{"a":0.585,"b":1.585,"m":15.977},{"a":0.595,"b":1.595,"m":16.014},
{"a":0.605,"b":1.605,"m":16.025},{"a":0.615,"b":1.615,"m":15.989},{"a":0.625,"b":1.625,"m":16.005},{"a":0.635,"b":1.635,"m":15.98},{"a":0.645,"b":1.645,"m":16.016},{"a":0.655,"b":1.655,"m":15.996},{"a":0.665,"b":1.665,"m":16.018},{"a":0.675,"b":1.675,"m":15.975},{"a":0.685,"b":1.685,"m":16.009},{"a":0.695,"b":1.695,"m":15.987},
{"a":0.705,"b":1.705,"m":16.023},{"a":0.715,"b":1.715,"m":15.993},{"a":0.725,"b":1.725,"m":16.004},{"a":0.735,"b":1.735,"m":16.011},{"a":0.745,"b":1.745,"m":15.984},{"a":0.755,"b":1.755,"m":16.022},{"a":0.765,"b":1.765,"m":15.995},{"a":0.775,"b":1.775,"m":16.002},{"a":0.785,"b":1.785,"m":15.977},{"a":0.795,"b":1.795,"m":16.014},
{"a":0.805,"b":1.805,"m":16.025},{"a":0.815,"b":1.815,"m":15.989},{"a":0.825,"b":1.825,"m":16.005},{"a":0.835,"b":1.835,"m":15.98},{"a":0.845,"b":1.845,"m":16.016},{"a":0.855,"b":1.855,"m":15.996},{"a":0.865,"b":1.865,"m":16.018},{"a":0.875,"b":1.875,"m":15.975},{"a":0.885,"b":1.885,"m":16.009},{"a":0.895,"b":1.895,"m":15.987},
{"a":0.905,"b":1.905,"m":16.023},{"a":0.915,"b":1.915,"m":15.993},{"a":0.925,"b":1.925,"m":16.004},{"a":0.935,"b":1.935,"m":16.016},{"a":0.945,"b":1.945,"m":16.004},{"a":0.955,"b":1.955,"m":16.067},{"a":0.965,"b":1.965,"m":16.075},{"a":0.975,"b":1.975,"m":16.122},{"a":0.985,"b":1.985,"m":16.142},{"a":0.995,"b":1.995,"m":16.217}
],
"d6": [
{"a":0,"b":1,"m":17.341},{"a":0.01,"b":1.01,"m":17.278},{"a":0.02,"b":1.02,"m":17.342},{"a":0.03,"b":1.03,"m":17.274},{"a":0.04,"b":1.04,"m":17.274},{"a":0.05,"b":1.05,"m":17.209},{"a":0.06,"b":1.06,"m":17.273},{"a":0.07,"b":1.07,"m":17.284},{"a":0.08,"b":1.08,"m":17.204},{"a":0.09,"b":1.09,"m":17.229},
{"a":0.1,"b":1.1,"m":17.171},{"a":0.11,"b":1.11,"m":17.238},{"a":0.12,"b":1.12,"m":17.195},{"a":0.13,"b":1.13,"m":17.233},{"a":0.14,"b":1.14,"m":17.145},{"a":0.15,"b":1.15,"m":17.208},{"a":0.16,"b":1.16,"m":17.162},{"a":0.17,"b":1.17,"m":17.23},{"a":0.18,"b":1.18,"m":17.167},{"a":0.19,"b":1.19,"m":17.185},
{"a":0.2,"b":1.2,"m":17.196},{"a":0.21,"b":1.21,"m":17.142},{"a":0.22,"b":1.22,"m":17.215},{"a":0.23,"b":1.23,"m":17.161},{"a":0.24,"b":1.24,"m":17.175},{"a":0.25,"b":1.25,"m":17.124},{"a":0.26,"b":1.26,"m":17.199},{"a":0.27,"b":1.27,"m":17.221},{"a":0.28,"b":1.28,"m":17.152},{"a":0.29,"b":1.29,"m":17.185},
{"a":0.3,"b":1.3,"m":17.136},{"a":0.31,"b":1.31,"m":17.21},{"a":0.32,"b":1.32,"m":17.174},{"a":0.33,"b":1.33,"m":17.219},{"a":0.34,"b":1.34,"m":17.138},{"a":0.35,"b":1.35,"m":17.208},{"a":0.36,"b":1.36,"m":17.169},{"a":0.37,"b":1.37,"m":17.244},{"a":0.38,"b":1.38,"m":17.188},{"a":0.39,"b":1.39,"m":17.213},
{"a":0.4,"b":1.4,"m":17.231},{"a":0.41,"b":1.41,"m":17.184},{"a":0.42,"b":1.42,"m":17.264},{"a":0.43,"b":1.43,"m":17.217},{"a":0.44,"b":1.44,"m":17.238},{"a":0.45,"b":1.45,"m":17.194},{"a":0.46,"b":1.46,"m":17.274},{"a":0.47,"b":1.47,"m":17.301},{"a":0.48,"b":1.48,"m":17.237},{"a":0.49,"b":1.49,"m":17.275},
{"a":0.5,"b":1.5,"m":17.231},{"a":0.51,"b":1.51,"m":17.296},{"a":0.52,"b":1.52,"m":17.251},{"a":0.53,"b":1.53,"m":17.285},{"a":0.54,"b":1.54,"m":17.191},{"a":0.55,"b":1.55,"m":17.248},{"a":0.56,"b":1.56,"m":17.199},{"a":0.57,"b":1.57,"m":17.264},{"a":0.58,"b":1.58,"m":17.198},{"a":0.59,"b":1.59,"m":17.213},
{"a":0.6,"b":1.6,"m":17.221},{"a":0.61,"b":1.61,"m":17.164},{"a":0.62,"b":1.62,"m":17.234},{"a":0.63,"b":1.63,"m":17.177},{"a":0.64,"b":1.64,"m":17.188},{"a":0.65,"b":1.65,"m":17.134},{"a":0.66,"b":1.66,"m":17.206},{"a":0.67,"b":1.67,"m":17.225},{"a":0.68,"b":1.68,"m":17.153},{"a":0.69,"b":1.69,"m":17.183},
{"a":0.7,"b":1.7,"m":17.131},{"a":0.71,"b":1.71,"m":17.202},{"a":0.72,"b":1.72,"m":17.163},{"a":0.73,"b":1.73,"m":17.205},{"a":0.74,"b":1.74,"m":17.121},{"a":0.75,"b":1.75,"m":17.188},{"a":0.76,"b":1.76,"m":17.147},{"a":0.77,"b":1.77,"m":17.22},{"a":0.78,"b":1.78,"m":17.162},{"a":0.79,"b":1.79,"m":17.185},
{"a":0.8,"b":1.8,"m":17.201},{"a":0.81,"b":1.81,"m":17.152},{"a":0.82,"b":1.82,"m":17.23},{"a":0.83,"b":1.83,"m":17.181},{"a":0.84,"b":1.84,"m":17.2},{"a":0.85,"b":1.85,"m":17.154},{"a":0.86,"b":1.86,"m":17.232},{"a":0.87,"b":1.87,"m":17.257},{"a":0.88,"b":1.88,"m":17.191},{"a":0.89,"b":1.89,"m":17.227},
{"a":0.9,"b":1.9,"m":17.181},{"a":0.91,"b":1.91,"m":17.26},{"a":0.92,"b":1.92,"m":17.229},{"a":0.93,"b":1.93,"m":17.279},{"a":0.94,"b":1.94,"m":17.203},{"a":0.95,"b":1.95,"m":17.278},{"a":0.96,"b":1.96,"m":17.25},{"a":0.97,"b":1.97,"m":17.336},{"a":0.98,"b":1.98,"m":17.286},{"a":0.99,"b":1.99,"m":17.317},
{"a":0.142,"b":1.142,"m":17.075},{"a":0.15,"b":1.15,"m":17.29},{"a":0.155,"b":1.155,"m":17.33},{"a":0.495,"b":1.495,"m":17.374},{"a":0.675,"b":1.675,"m":17.31},{"a":0.003,"b":1.003,"m":17.37},{"a":0.006,"b":1.006,"m":17.35},{"a":0.995,"b":1.995,"m":17.36},{"a":0.992,"b":1.992,"m":17.34},{"a":0.125,"b":1.125,"m":17.14},{"a":0.275,"b":1.275,"m":17.13},{"a":0.775,"b":1.775,"m":17.13},{"a":0.845,"b":1.845,"m":17.28},{"a":0.355,"b":1.355,"m":17.15},{"a":0.625,"b":1.625,"m":17.15},{"a":0.475,"b":1.475,"m":17.22},{"a":0.535,"b":1.535,"m":17.3},{"a":0.205,"b":1.205,"m":17.22},{"a":0.805,"b":1.805,"m":17.22},{"a":0.405,"b":1.405,"m":17.17},{"a":0.905,"b":1.905,"m":17.26},{"a":0.055,"b":1.055,"m":17.29},{"a":0.085,"b":1.085,"m":17.14},
{"a":0.005,"b":1.005,"m":17.364},{"a":0.015,"b":1.015,"m":17.284},{"a":0.025,"b":1.025,"m":17.304},{"a":0.035,"b":1.035,"m":17.239},{"a":0.045,"b":1.045,"m":17.295},{"a":0.055,"b":1.055,"m":17.243},{"a":0.065,"b":1.065,"m":17.275},{"a":0.075,"b":1.075,"m":17.181},{"a":0.085,"b":1.085,"m":17.24},{"a":0.095,"b":1.095,"m":17.189},
{"a":0.105,"b":1.105,"m":17.254},{"a":0.115,"b":1.115,"m":17.19},{"a":0.125,"b":1.125,"m":17.207},{"a":0.135,"b":1.135,"m":17.217},{"a":0.145,"b":1.145,"m":17.16},{"a":0.155,"b":1.155,"m":17.231},{"a":0.165,"b":1.165,"m":17.175},{"a":0.175,"b":1.175,"m":17.187},{"a":0.185,"b":1.185,"m":17.134},{"a":0.195,"b":1.195,"m":17.205},
{"a":0.205,"b":1.205,"m":17.224},{"a":0.215,"b":1.215,"m":17.153},{"a":0.225,"b":1.225,"m":17.184},{"a":0.235,"b":1.235,"m":17.133},{"a":0.245,"b":1.245,"m":17.203},{"a":0.255,"b":1.255,"m":17.164},{"a":0.265,"b":1.265,"m":17.207},{"a":0.275,"b":1.275,"m":17.124},{"a":0.285,"b":1.285,"m":17.192},{"a":0.295,"b":1.295,"m":17.15},
{"a":0.305,"b":1.305,"m":17.223},{"a":0.315,"b":1.315,"m":17.166},{"a":0.325,"b":1.325,"m":17.19},{"a":0.335,"b":1.335,"m":17.207},{"a":0.345,"b":1.345,"m":17.157},{"a":0.355,"b":1.355,"m":17.234},{"a":0.365,"b":1.365,"m":17.185},{"a":0.375,"b":1.375,"m":17.204},{"a":0.385,"b":1.385,"m":17.158},{"a":0.395,"b":1.395,"m":17.236},
{"a":0.405,"b":1.405,"m":17.262},{"a":0.415,"b":1.415,"m":17.198},{"a":0.425,"b":1.425,"m":17.236},{"a":0.435,"b":1.435,"m":17.192},{"a":0.445,"b":1.445,"m":17.269},{"a":0.455,"b":1.455,"m":17.236},{"a":0.465,"b":1.465,"m":17.284},{"a":0.475,"b":1.475,"m":17.206},{"a":0.485,"b":1.485,"m":17.279},{"a":0.495,"b":1.495,"m":17.242},
{"a":0.505,"b":1.505,"m":17.313},{"a":0.515,"b":1.515,"m":17.247},{"a":0.525,"b":1.525,"m":17.261},{"a":0.535,"b":1.535,"m":17.266},{"a":0.545,"b":1.545,"m":17.203},{"a":0.555,"b":1.555,"m":17.269},{"a":0.565,"b":1.565,"m":17.21},{"a":0.575,"b":1.575,"m":17.219},{"a":0.585,"b":1.585,"m":17.163},{"a":0.595,"b":1.595,"m":17.231},
{"a":0.605,"b":1.605,"m":17.247},{"a":0.615,"b":1.615,"m":17.173},{"a":0.625,"b":1.625,"m":17.201},{"a":0.635,"b":1.635,"m":17.147},{"a":0.645,"b":1.645,"m":17.214},{"a":0.655,"b":1.655,"m":17.172},{"a":0.665,"b":1.665,"m":17.212},{"a":0.675,"b":1.675,"m":17.126},{"a":0.685,"b":1.685,"m":17.191},{"a":0.695,"b":1.695,"m":17.146},
{"a":0.705,"b":1.705,"m":17.216},{"a":0.715,"b":1.715,"m":17.156},{"a":0.725,"b":1.725,"m":17.177},{"a":0.735,"b":1.735,"m":17.191},{"a":0.745,"b":1.745,"m":17.138},{"a":0.755,"b":1.755,"m":17.213},{"a":0.765,"b":1.765,"m":17.162},{"a":0.775,"b":1.775,"m":17.179},{"a":0.785,"b":1.785,"m":17.131},{"a":0.795,"b":1.795,"m":17.207},
{"a":0.805,"b":1.805,"m":17.231},{"a":0.815,"b":1.815,"m":17.165},{"a":0.825,"b":1.825,"m":17.201},{"a":0.835,"b":1.835,"m":17.155},{"a":0.845,"b":1.845,"m":17.23},{"a":0.855,"b":1.855,"m":17.195},{"a":0.865,"b":1.865,"m":17.241},{"a":0.875,"b":1.875,"m":17.161},{"a":0.885,"b":1.885,"m":17.232},{"a":0.895,"b":1.895,"m":17.193},
{"a":0.905,"b":1.905,"m":17.27},{"a":0.915,"b":1.915,"m":17.218},{"a":0.925,"b":1.925,"m":17.247},{"a":0.935,"b":1.935,"m":17.269},{"a":0.945,"b":1.945,"m":17.224},{"a":0.955,"b":1.955,"m":17.31},{"a":0.965,"b":1.965,"m":17.272},{"a":0.975,"b":1.975,"m":17.299},{"a":0.985,"b":1.985,"m":17.259},{"a":0.995,"b":1.995,"m":17.343}
]
},
"columns": 2,
"spacing": {"row": 47, "column": 67},
"bounds": "flush",
"concat": [
{"width": 267, "height": 144, "resolve": {"axis": {"x": "independent", "y": "independent"}},
 "layer": [
  {"data": {"name": "d1"}, "transform": [{"fold": ["a", "b"], "as": ["k", "x"]}],
   "mark": {"type": "circle", "size": 17, "color": "black", "opacity": 1},
   "encoding": {
    "x": {"field": "x", "type": "quantitative", "scale": {"domain": [0, 2], "nice": false, "zero": false}, "axis": {"orient": "bottom", "values": [0, 0.5, 1, 1.5, 2], "format": "~g", "tickSize": -8, "labelPadding": 15, "title": "Phase", "titleFontSize": 20, "titlePadding": 4}},
    "y": {"field": "m", "type": "quantitative", "scale": {"domain": [16.238, 16.937], "reverse": true, "nice": false, "zero": false}, "axis": {"orient": "left", "values": [16.4, 16.6, 16.8], "format": "~g", "tickSize": -8, "labelPadding": 21, "title": "R", "titleFontSize": 19, "titleX": -40, "titleY": 126, "titleAngle": -90, "titleAlign": "left", "titleBaseline": "alphabetic"}}}},
  {"data": {"values": [{"x": 1, "m": 16.5}]}, "mark": {"type": "circle", "opacity": 0},
   "encoding": {
    "x": {"field": "x", "type": "quantitative", "scale": {"domain": [0, 2], "nice": false, "zero": false}, "axis": {"orient": "bottom", "values": [0.1,0.2,0.3,0.4,0.6,0.7,0.8,0.9,1.1,1.2,1.3,1.4,1.6,1.7,1.8,1.9], "labels": false, "tickSize": -4, "title": null}},
    "y": {"field": "m", "type": "quantitative", "scale": {"domain": [16.238, 16.937], "reverse": true, "nice": false, "zero": false}, "axis": {"orient": "left", "values": [16.25,16.3,16.35,16.45,16.5,16.55,16.65,16.7,16.75,16.85,16.9], "labels": false, "tickSize": -4, "title": "EROS", "titleFontSize": 9, "titleX": -33.5, "titleY": 102, "titleAngle": -90, "titleAlign": "left", "titleBaseline": "alphabetic"}}}},
  {"data": {"values": [{"x": 1, "m": 16.5}]}, "mark": {"type": "circle", "opacity": 0},
   "encoding": {
    "x": {"field": "x", "type": "quantitative", "scale": {"domain": [0, 2], "nice": false, "zero": false}, "axis": {"orient": "top", "values": [0, 0.5, 1, 1.5, 2], "labels": false, "tickSize": -8, "title": null}},
    "y": {"field": "m", "type": "quantitative", "scale": {"domain": [16.238, 16.937], "reverse": true, "nice": false, "zero": false}, "axis": {"orient": "right", "values": [16.4, 16.6, 16.8], "labels": false, "tickSize": -8, "title": "(mag)", "titleFontSize": 19, "titleX": -307, "titleY": 78, "titleAngle": -90, "titleAlign": "left", "titleBaseline": "alphabetic"}}}},
  {"data": {"values": [{"x": 1, "m": 16.5}]}, "mark": {"type": "circle", "opacity": 0},
   "encoding": {
    "x": {"field": "x", "type": "quantitative", "scale": {"domain": [0, 2], "nice": false, "zero": false}, "axis": {"orient": "top", "values": [0.1,0.2,0.3,0.4,0.6,0.7,0.8,0.9,1.1,1.2,1.3,1.4,1.6,1.7,1.8,1.9], "labels": false, "tickSize": -4, "title": null}},
    "y": {"field": "m", "type": "quantitative", "scale": {"domain": [16.238, 16.937], "reverse": true, "nice": false, "zero": false}, "axis": {"orient": "right", "values": [16.25,16.3,16.35,16.45,16.5,16.55,16.65,16.7,16.75,16.85,16.9], "labels": false, "tickSize": -4, "title": null}}}},
  {"data": {"values": [{"x": 0.19, "m": 16.806, "t": "lm0375k19793"}, {"x": 0.19, "m": 16.888, "t": "P=2.158691\u00a0 N=346"}]},
   "mark": {"type": "text", "align": "left", "baseline": "alphabetic", "font": "Liberation Sans", "fontSize": 14, "color": "#222"},
   "encoding": {
    "x": {"field": "x", "type": "quantitative", "scale": {"domain": [0, 2], "nice": false, "zero": false}, "axis": null},
    "y": {"field": "m", "type": "quantitative", "scale": {"domain": [16.238, 16.937], "reverse": true, "nice": false, "zero": false}, "axis": null},
    "text": {"field": "t"}}}
 ]},
{"width": 267, "height": 144, "resolve": {"axis": {"x": "independent", "y": "independent"}},
 "layer": [
  {"data": {"name": "d2"}, "transform": [{"fold": ["a", "b"], "as": ["k", "x"]}],
   "mark": {"type": "circle", "size": 17, "color": "black", "opacity": 1},
   "encoding": {
    "x": {"field": "x", "type": "quantitative", "scale": {"domain": [0, 2], "nice": false, "zero": false}, "axis": {"orient": "bottom", "values": [0, 0.5, 1, 1.5, 2], "format": "~g", "tickSize": -8, "labelPadding": 15, "title": "Phase", "titleFontSize": 20, "titlePadding": 4}},
    "y": {"field": "m", "type": "quantitative", "scale": {"domain": [15.774, 16.519], "reverse": true, "nice": false, "zero": false}, "axis": {"orient": "left", "values": [15.8, 16, 16.2, 16.4], "format": "~g", "tickSize": -8, "labelPadding": 23, "title": "R", "titleFontSize": 19, "titleX": -43.5, "titleY": 126, "titleAngle": -90, "titleAlign": "left", "titleBaseline": "alphabetic"}}}},
  {"data": {"values": [{"x": 1, "m": 16}]}, "mark": {"type": "circle", "opacity": 0},
   "encoding": {
    "x": {"field": "x", "type": "quantitative", "scale": {"domain": [0, 2], "nice": false, "zero": false}, "axis": {"orient": "bottom", "values": [0.1,0.2,0.3,0.4,0.6,0.7,0.8,0.9,1.1,1.2,1.3,1.4,1.6,1.7,1.8,1.9], "labels": false, "tickSize": -4, "title": null}},
    "y": {"field": "m", "type": "quantitative", "scale": {"domain": [15.774, 16.519], "reverse": true, "nice": false, "zero": false}, "axis": {"orient": "left", "values": [15.85,15.9,15.95,16.05,16.1,16.15,16.25,16.3,16.35,16.45,16.5], "labels": false, "tickSize": -4, "title": "EROS", "titleFontSize": 9, "titleX": -37, "titleY": 102, "titleAngle": -90, "titleAlign": "left", "titleBaseline": "alphabetic"}}}},
  {"data": {"values": [{"x": 1, "m": 16}]}, "mark": {"type": "circle", "opacity": 0},
   "encoding": {
    "x": {"field": "x", "type": "quantitative", "scale": {"domain": [0, 2], "nice": false, "zero": false}, "axis": {"orient": "top", "values": [0, 0.5, 1, 1.5, 2], "labels": false, "tickSize": -8, "title": null}},
    "y": {"field": "m", "type": "quantitative", "scale": {"domain": [15.774, 16.519], "reverse": true, "nice": false, "zero": false}, "axis": {"orient": "right", "values": [15.8, 16, 16.2, 16.4], "labels": false, "tickSize": -8, "title": "(mag)", "titleFontSize": 19, "titleX": -310.5, "titleY": 78, "titleAngle": -90, "titleAlign": "left", "titleBaseline": "alphabetic"}}}},
  {"data": {"values": [{"x": 1, "m": 16}]}, "mark": {"type": "circle", "opacity": 0},
   "encoding": {
    "x": {"field": "x", "type": "quantitative", "scale": {"domain": [0, 2], "nice": false, "zero": false}, "axis": {"orient": "top", "values": [0.1,0.2,0.3,0.4,0.6,0.7,0.8,0.9,1.1,1.2,1.3,1.4,1.6,1.7,1.8,1.9], "labels": false, "tickSize": -4, "title": null}},
    "y": {"field": "m", "type": "quantitative", "scale": {"domain": [15.774, 16.519], "reverse": true, "nice": false, "zero": false}, "axis": {"orient": "right", "values": [15.85,15.9,15.95,16.05,16.1,16.15,16.25,16.3,16.35,16.45,16.5], "labels": false, "tickSize": -4, "title": null}}}},
  {"data": {"values": [{"x": 0.19, "m": 16.379, "t": "lm0344m10932"}, {"x": 0.19, "m": 16.467, "t": "P=2.077371\u00a0 N=443"}]},
   "mark": {"type": "text", "align": "left", "baseline": "alphabetic", "font": "Liberation Sans", "fontSize": 14, "color": "#222"},
   "encoding": {
    "x": {"field": "x", "type": "quantitative", "scale": {"domain": [0, 2], "nice": false, "zero": false}, "axis": null},
    "y": {"field": "m", "type": "quantitative", "scale": {"domain": [15.774, 16.519], "reverse": true, "nice": false, "zero": false}, "axis": null},
    "text": {"field": "t"}}}
 ]},
{"width": 267, "height": 144, "resolve": {"axis": {"x": "independent", "y": "independent"}},
 "layer": [
  {"data": {"name": "d3"}, "transform": [{"fold": ["a", "b"], "as": ["k", "x"]}],
   "mark": {"type": "circle", "size": 17, "color": "black", "opacity": 1},
   "encoding": {
    "x": {"field": "x", "type": "quantitative", "scale": {"domain": [0, 2], "nice": false, "zero": false}, "axis": {"orient": "bottom", "values": [0, 0.5, 1, 1.5, 2], "format": "~g", "tickSize": -8, "labelPadding": 15, "title": "Phase", "titleFontSize": 20, "titlePadding": 4}},
    "y": {"field": "m", "type": "quantitative", "scale": {"domain": [17.214, 18.645], "reverse": true, "nice": false, "zero": false}, "axis": {"orient": "left", "values": [17.5, 18, 18.5], "format": "~g", "tickSize": -8, "labelPadding": 21, "title": "R", "titleFontSize": 19, "titleX": -40, "titleY": 126, "titleAngle": -90, "titleAlign": "left", "titleBaseline": "alphabetic"}}}},
  {"data": {"values": [{"x": 1, "m": 17.5}]}, "mark": {"type": "circle", "opacity": 0},
   "encoding": {
    "x": {"field": "x", "type": "quantitative", "scale": {"domain": [0, 2], "nice": false, "zero": false}, "axis": {"orient": "bottom", "values": [0.1,0.2,0.3,0.4,0.6,0.7,0.8,0.9,1.1,1.2,1.3,1.4,1.6,1.7,1.8,1.9], "labels": false, "tickSize": -4, "title": null}},
    "y": {"field": "m", "type": "quantitative", "scale": {"domain": [17.214, 18.645], "reverse": true, "nice": false, "zero": false}, "axis": {"orient": "left", "values": [17.3,17.4,17.6,17.7,17.8,17.9,18.1,18.2,18.3,18.4,18.6], "labels": false, "tickSize": -4, "title": "EROS", "titleFontSize": 9, "titleX": -33.5, "titleY": 102, "titleAngle": -90, "titleAlign": "left", "titleBaseline": "alphabetic"}}}},
  {"data": {"values": [{"x": 1, "m": 17.5}]}, "mark": {"type": "circle", "opacity": 0},
   "encoding": {
    "x": {"field": "x", "type": "quantitative", "scale": {"domain": [0, 2], "nice": false, "zero": false}, "axis": {"orient": "top", "values": [0, 0.5, 1, 1.5, 2], "labels": false, "tickSize": -8, "title": null}},
    "y": {"field": "m", "type": "quantitative", "scale": {"domain": [17.214, 18.645], "reverse": true, "nice": false, "zero": false}, "axis": {"orient": "right", "values": [17.5, 18, 18.5], "labels": false, "tickSize": -8, "title": "(mag)", "titleFontSize": 19, "titleX": -307, "titleY": 78, "titleAngle": -90, "titleAlign": "left", "titleBaseline": "alphabetic"}}}},
  {"data": {"values": [{"x": 1, "m": 17.5}]}, "mark": {"type": "circle", "opacity": 0},
   "encoding": {
    "x": {"field": "x", "type": "quantitative", "scale": {"domain": [0, 2], "nice": false, "zero": false}, "axis": {"orient": "top", "values": [0.1,0.2,0.3,0.4,0.6,0.7,0.8,0.9,1.1,1.2,1.3,1.4,1.6,1.7,1.8,1.9], "labels": false, "tickSize": -4, "title": null}},
    "y": {"field": "m", "type": "quantitative", "scale": {"domain": [17.214, 18.645], "reverse": true, "nice": false, "zero": false}, "axis": {"orient": "right", "values": [17.3,17.4,17.6,17.7,17.8,17.9,18.1,18.2,18.3,18.4,18.6], "labels": false, "tickSize": -4, "title": null}}}},
  {"data": {"values": [{"x": 0.19, "m": 18.377, "t": "lm0447n7830"}, {"x": 0.19, "m": 18.546, "t": "P=1.715561\u00a0 N=490"}]},
   "mark": {"type": "text", "align": "left", "baseline": "alphabetic", "font": "Liberation Sans", "fontSize": 14, "color": "#222"},
   "encoding": {
    "x": {"field": "x", "type": "quantitative", "scale": {"domain": [0, 2], "nice": false, "zero": false}, "axis": null},
    "y": {"field": "m", "type": "quantitative", "scale": {"domain": [17.214, 18.645], "reverse": true, "nice": false, "zero": false}, "axis": null},
    "text": {"field": "t"}}}
 ]},
{"width": 267, "height": 144, "resolve": {"axis": {"x": "independent", "y": "independent"}},
 "layer": [
  {"data": {"name": "d4"}, "transform": [{"fold": ["a", "b"], "as": ["k", "x"]}],
   "mark": {"type": "circle", "size": 17, "color": "black", "opacity": 1},
   "encoding": {
    "x": {"field": "x", "type": "quantitative", "scale": {"domain": [0, 2], "nice": false, "zero": false}, "axis": {"orient": "bottom", "values": [0, 0.5, 1, 1.5, 2], "format": "~g", "tickSize": -8, "labelPadding": 15, "title": "Phase", "titleFontSize": 20, "titlePadding": 4}},
    "y": {"field": "m", "type": "quantitative", "scale": {"domain": [16.703, 18.402], "reverse": true, "nice": false, "zero": false}, "axis": {"orient": "left", "values": [17, 17.5, 18], "format": "~g", "tickSize": -8, "labelPadding": 23, "title": "R", "titleFontSize": 19, "titleX": -43.5, "titleY": 126, "titleAngle": -90, "titleAlign": "left", "titleBaseline": "alphabetic"}}}},
  {"data": {"values": [{"x": 1, "m": 17.5}]}, "mark": {"type": "circle", "opacity": 0},
   "encoding": {
    "x": {"field": "x", "type": "quantitative", "scale": {"domain": [0, 2], "nice": false, "zero": false}, "axis": {"orient": "bottom", "values": [0.1,0.2,0.3,0.4,0.6,0.7,0.8,0.9,1.1,1.2,1.3,1.4,1.6,1.7,1.8,1.9], "labels": false, "tickSize": -4, "title": null}},
    "y": {"field": "m", "type": "quantitative", "scale": {"domain": [16.703, 18.402], "reverse": true, "nice": false, "zero": false}, "axis": {"orient": "left", "values": [16.8,16.9,17.1,17.2,17.3,17.4,17.6,17.7,17.8,17.9,18.1,18.2,18.3,18.4], "labels": false, "tickSize": -4, "title": "EROS", "titleFontSize": 9, "titleX": -37, "titleY": 102, "titleAngle": -90, "titleAlign": "left", "titleBaseline": "alphabetic"}}}},
  {"data": {"values": [{"x": 1, "m": 17.5}]}, "mark": {"type": "circle", "opacity": 0},
   "encoding": {
    "x": {"field": "x", "type": "quantitative", "scale": {"domain": [0, 2], "nice": false, "zero": false}, "axis": {"orient": "top", "values": [0, 0.5, 1, 1.5, 2], "labels": false, "tickSize": -8, "title": null}},
    "y": {"field": "m", "type": "quantitative", "scale": {"domain": [16.703, 18.402], "reverse": true, "nice": false, "zero": false}, "axis": {"orient": "right", "values": [17, 17.5, 18], "labels": false, "tickSize": -8, "title": "(mag)", "titleFontSize": 19, "titleX": -310.5, "titleY": 78, "titleAngle": -90, "titleAlign": "left", "titleBaseline": "alphabetic"}}}},
  {"data": {"values": [{"x": 1, "m": 17.5}]}, "mark": {"type": "circle", "opacity": 0},
   "encoding": {
    "x": {"field": "x", "type": "quantitative", "scale": {"domain": [0, 2], "nice": false, "zero": false}, "axis": {"orient": "top", "values": [0.1,0.2,0.3,0.4,0.6,0.7,0.8,0.9,1.1,1.2,1.3,1.4,1.6,1.7,1.8,1.9], "labels": false, "tickSize": -4, "title": null}},
    "y": {"field": "m", "type": "quantitative", "scale": {"domain": [16.703, 18.402], "reverse": true, "nice": false, "zero": false}, "axis": {"orient": "right", "values": [16.8,16.9,17.1,17.2,17.3,17.4,17.6,17.7,17.8,17.9,18.1,18.2,18.3,18.4], "labels": false, "tickSize": -4, "title": null}}}},
  {"data": {"values": [{"x": 0.19, "m": 18.083, "t": "lm0366k19655"}, {"x": 0.19, "m": 18.284, "t": "P=1.295471\u00a0 N=303"}]},
   "mark": {"type": "text", "align": "left", "baseline": "alphabetic", "font": "Liberation Sans", "fontSize": 14, "color": "#222"},
   "encoding": {
    "x": {"field": "x", "type": "quantitative", "scale": {"domain": [0, 2], "nice": false, "zero": false}, "axis": null},
    "y": {"field": "m", "type": "quantitative", "scale": {"domain": [16.703, 18.402], "reverse": true, "nice": false, "zero": false}, "axis": null},
    "text": {"field": "t"}}}
 ]},
{"width": 267, "height": 144, "resolve": {"axis": {"x": "independent", "y": "independent"}},
 "layer": [
  {"data": {"name": "d5"}, "transform": [{"fold": ["a", "b"], "as": ["k", "x"]}],
   "mark": {"type": "circle", "size": 17, "color": "black", "opacity": 1},
   "encoding": {
    "x": {"field": "x", "type": "quantitative", "scale": {"domain": [0, 2], "nice": false, "zero": false}, "axis": {"orient": "bottom", "values": [0, 0.5, 1, 1.5, 2], "format": "~g", "tickSize": -8, "labelPadding": 15, "title": "Phase", "titleFontSize": 20, "titlePadding": 4}},
    "y": {"field": "m", "type": "quantitative", "scale": {"domain": [15.784, 16.538], "reverse": true, "nice": false, "zero": false}, "axis": {"orient": "left", "values": [15.8, 16, 16.2, 16.4], "format": "~g", "tickSize": -8, "labelPadding": 21, "title": "R", "titleFontSize": 19, "titleX": -40, "titleY": 126, "titleAngle": -90, "titleAlign": "left", "titleBaseline": "alphabetic"}}}},
  {"data": {"values": [{"x": 1, "m": 16}]}, "mark": {"type": "circle", "opacity": 0},
   "encoding": {
    "x": {"field": "x", "type": "quantitative", "scale": {"domain": [0, 2], "nice": false, "zero": false}, "axis": {"orient": "bottom", "values": [0.1,0.2,0.3,0.4,0.6,0.7,0.8,0.9,1.1,1.2,1.3,1.4,1.6,1.7,1.8,1.9], "labels": false, "tickSize": -4, "title": null}},
    "y": {"field": "m", "type": "quantitative", "scale": {"domain": [15.784, 16.538], "reverse": true, "nice": false, "zero": false}, "axis": {"orient": "left", "values": [15.85,15.9,15.95,16.05,16.1,16.15,16.25,16.3,16.35,16.45,16.5], "labels": false, "tickSize": -4, "title": "EROS", "titleFontSize": 9, "titleX": -33.5, "titleY": 102, "titleAngle": -90, "titleAlign": "left", "titleBaseline": "alphabetic"}}}},
  {"data": {"values": [{"x": 1, "m": 16}]}, "mark": {"type": "circle", "opacity": 0},
   "encoding": {
    "x": {"field": "x", "type": "quantitative", "scale": {"domain": [0, 2], "nice": false, "zero": false}, "axis": {"orient": "top", "values": [0, 0.5, 1, 1.5, 2], "labels": false, "tickSize": -8, "title": null}},
    "y": {"field": "m", "type": "quantitative", "scale": {"domain": [15.784, 16.538], "reverse": true, "nice": false, "zero": false}, "axis": {"orient": "right", "values": [15.8, 16, 16.2, 16.4], "labels": false, "tickSize": -8, "title": "(mag)", "titleFontSize": 19, "titleX": -307, "titleY": 78, "titleAngle": -90, "titleAlign": "left", "titleBaseline": "alphabetic"}}}},
  {"data": {"values": [{"x": 1, "m": 16}]}, "mark": {"type": "circle", "opacity": 0},
   "encoding": {
    "x": {"field": "x", "type": "quantitative", "scale": {"domain": [0, 2], "nice": false, "zero": false}, "axis": {"orient": "top", "values": [0.1,0.2,0.3,0.4,0.6,0.7,0.8,0.9,1.1,1.2,1.3,1.4,1.6,1.7,1.8,1.9], "labels": false, "tickSize": -4, "title": null}},
    "y": {"field": "m", "type": "quantitative", "scale": {"domain": [15.784, 16.538], "reverse": true, "nice": false, "zero": false}, "axis": {"orient": "right", "values": [15.85,15.9,15.95,16.05,16.1,16.15,16.25,16.3,16.35,16.45,16.5], "labels": false, "tickSize": -4, "title": null}}}},
  {"data": {"values": [{"x": 0.19, "m": 16.397, "t": "lm0467n17850"}, {"x": 0.19, "m": 16.486, "t": "P=4.324035\u00a0 N=500"}]},
   "mark": {"type": "text", "align": "left", "baseline": "alphabetic", "font": "Liberation Sans", "fontSize": 14, "color": "#222"},
   "encoding": {
    "x": {"field": "x", "type": "quantitative", "scale": {"domain": [0, 2], "nice": false, "zero": false}, "axis": null},
    "y": {"field": "m", "type": "quantitative", "scale": {"domain": [15.784, 16.538], "reverse": true, "nice": false, "zero": false}, "axis": null},
    "text": {"field": "t"}}}
 ]},
{"width": 267, "height": 144, "resolve": {"axis": {"x": "independent", "y": "independent"}},
 "layer": [
  {"data": {"name": "d6"}, "transform": [{"fold": ["a", "b"], "as": ["k", "x"]}],
   "mark": {"type": "circle", "size": 17, "color": "black", "opacity": 1},
   "encoding": {
    "x": {"field": "x", "type": "quantitative", "scale": {"domain": [0, 2], "nice": false, "zero": false}, "axis": {"orient": "bottom", "values": [0, 0.5, 1, 1.5, 2], "format": "~g", "tickSize": -8, "labelPadding": 15, "title": "Phase", "titleFontSize": 20, "titlePadding": 4}},
    "y": {"field": "m", "type": "quantitative", "scale": {"domain": [16.986, 17.673], "reverse": true, "nice": false, "zero": false}, "axis": {"orient": "left", "values": [17, 17.2, 17.4, 17.6], "format": "~g", "tickSize": -8, "labelPadding": 23, "title": "R", "titleFontSize": 19, "titleX": -43.5, "titleY": 126, "titleAngle": -90, "titleAlign": "left", "titleBaseline": "alphabetic"}}}},
  {"data": {"values": [{"x": 1, "m": 17.3}]}, "mark": {"type": "circle", "opacity": 0},
   "encoding": {
    "x": {"field": "x", "type": "quantitative", "scale": {"domain": [0, 2], "nice": false, "zero": false}, "axis": {"orient": "bottom", "values": [0.1,0.2,0.3,0.4,0.6,0.7,0.8,0.9,1.1,1.2,1.3,1.4,1.6,1.7,1.8,1.9], "labels": false, "tickSize": -4, "title": null}},
    "y": {"field": "m", "type": "quantitative", "scale": {"domain": [16.986, 17.673], "reverse": true, "nice": false, "zero": false}, "axis": {"orient": "left", "values": [17.05,17.1,17.15,17.25,17.3,17.35,17.45,17.5,17.55,17.65], "labels": false, "tickSize": -4, "title": "EROS", "titleFontSize": 9, "titleX": -37, "titleY": 102, "titleAngle": -90, "titleAlign": "left", "titleBaseline": "alphabetic"}}}},
  {"data": {"values": [{"x": 1, "m": 17.3}]}, "mark": {"type": "circle", "opacity": 0},
   "encoding": {
    "x": {"field": "x", "type": "quantitative", "scale": {"domain": [0, 2], "nice": false, "zero": false}, "axis": {"orient": "top", "values": [0, 0.5, 1, 1.5, 2], "labels": false, "tickSize": -8, "title": null}},
    "y": {"field": "m", "type": "quantitative", "scale": {"domain": [16.986, 17.673], "reverse": true, "nice": false, "zero": false}, "axis": {"orient": "right", "values": [17, 17.2, 17.4, 17.6], "labels": false, "tickSize": -8, "title": "(mag)", "titleFontSize": 19, "titleX": -310.5, "titleY": 78, "titleAngle": -90, "titleAlign": "left", "titleBaseline": "alphabetic"}}}},
  {"data": {"values": [{"x": 1, "m": 17.3}]}, "mark": {"type": "circle", "opacity": 0},
   "encoding": {
    "x": {"field": "x", "type": "quantitative", "scale": {"domain": [0, 2], "nice": false, "zero": false}, "axis": {"orient": "top", "values": [0.1,0.2,0.3,0.4,0.6,0.7,0.8,0.9,1.1,1.2,1.3,1.4,1.6,1.7,1.8,1.9], "labels": false, "tickSize": -4, "title": null}},
    "y": {"field": "m", "type": "quantitative", "scale": {"domain": [16.986, 17.673], "reverse": true, "nice": false, "zero": false}, "axis": {"orient": "right", "values": [17.05,17.1,17.15,17.25,17.3,17.35,17.45,17.5,17.55,17.65], "labels": false, "tickSize": -4, "title": null}}}},
  {"data": {"values": [{"x": 0.19, "m": 17.544, "t": "lm0211k9308"}, {"x": 0.19, "m": 17.625, "t": "P=2.341696\u00a0 N=420"}]},
   "mark": {"type": "text", "align": "left", "baseline": "alphabetic", "font": "Liberation Sans", "fontSize": 14, "color": "#222"},
   "encoding": {
    "x": {"field": "x", "type": "quantitative", "scale": {"domain": [0, 2], "nice": false, "zero": false}, "axis": null},
    "y": {"field": "m", "type": "quantitative", "scale": {"domain": [16.986, 17.673], "reverse": true, "nice": false, "zero": false}, "axis": null},
    "text": {"field": "t"}}}
 ]}
]
}
